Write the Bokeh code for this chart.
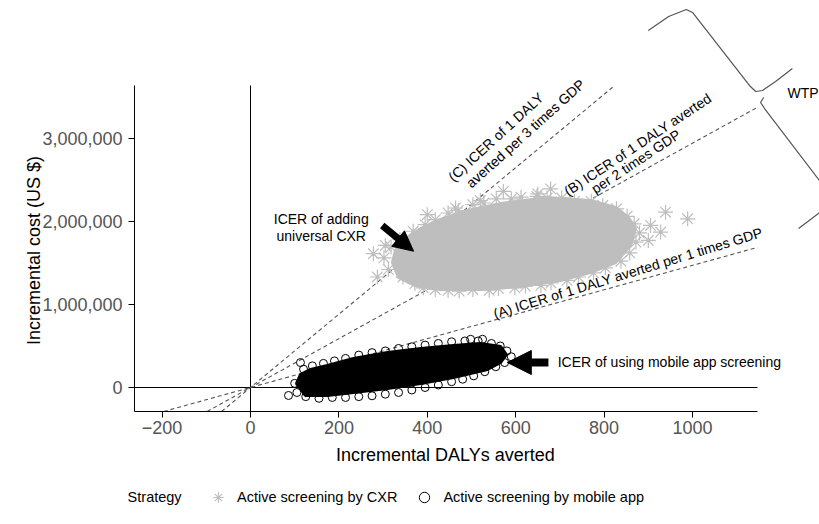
from bokeh.plotting import figure
from bokeh.models import (Range1d, Label, Legend, LegendItem, Arrow, NormalHead,
                          NumeralTickFormatter, FixedTicker)
from bokeh.embed import file_html
from bokeh.resources import INLINE

FONT = "Liberation Sans"

# ---------------- data ----------------
x_ticks = [-200, 0, 200, 400, 600, 800, 1000]
y_ticks = [0, 1000000, 2000000, 3000000]

# panel limits (data units)
x_min, x_max = -262.4, 1147.0
y_min, y_max = -288800.0, 3634000.0

# willingness-to-pay thresholds: multiples of GDP per capita (US$ per DALY)
gdp_per_capita = 1470
wtp_multiples = [1, 2, 3]

# Active screening by CXR: dense core outline + scattered edge draws
cxr_core_x = [321, 328, 351, 385, 423, 491, 566, 672, 769, 826, 855, 871, 860,
              826, 769, 701, 611, 520, 430, 373, 335]
cxr_core_y = [1504000, 1649000, 1793000, 1913000, 2010000, 2130000, 2214000,
              2286000, 2250000, 2166000, 2046000, 1913000, 1709000, 1504000,
              1384000, 1288000, 1215000, 1179000, 1179000, 1227000, 1324000]
cxr_x = [302, 312, 318, 338, 345, 368, 372,
         395, 418, 447, 470, 503, 528, 556, 590, 612, 648, 671, 704, 733, 771,
         797, 828,
         852, 868, 880, 872, 858,
         838, 803, 776, 742, 716, 680, 657, 622, 598, 561, 540, 503, 472, 447,
         418, 391,
         278, 287, 305, 400, 464, 572, 679, 905, 928, 939, 989, 900, 650, 520]
cxr_y = [1560000, 1420000, 1690000, 1780000, 1330000, 1880000, 1250000,
         1960000, 2020000, 2100000, 2130000, 2200000, 2220000, 2270000,
         2270000, 2290000, 2300000, 2280000, 2280000, 2240000, 2240000,
         2190000, 2150000,
         2060000, 1970000, 1860000, 1750000, 1620000,
         1520000, 1440000, 1380000, 1330000, 1290000, 1260000, 1230000,
         1220000, 1200000, 1190000, 1170000, 1180000, 1160000, 1170000,
         1180000, 1200000,
         1610000, 1330000, 1710000, 2080000, 2160000, 2360000, 2390000,
         1950000, 1870000, 2110000, 2030000, 1770000, 2330000, 2250000]

# Active screening by mobile app: dense core outline + edge draws
app_core_x = [104, 113, 136, 174, 233, 310, 385, 459, 520, 566, 579, 566, 536,
              459, 385, 310, 233, 174, 124]
app_core_y = [48000, 156000, 217000, 265000, 349000, 421000, 469000, 505000,
              529000, 493000, 397000, 301000, 217000, 120000, 48000, -12000,
              -60000, -96000, -96000]
app_x = [120, 140, 165, 190, 215, 245, 275, 305, 335, 365, 395, 425, 455, 485,
         515, 545, 565,
         580, 590, 575, 555,
         530, 505, 480, 455, 425, 395, 365, 335, 305, 275, 245, 215, 185, 155,
         125, 105, 100,
         86, 113, 498, 525, 560]
app_y = [220000, 260000, 290000, 320000, 350000, 390000, 420000, 440000,
         470000, 490000, 510000, 530000, 550000, 560000, 560000, 530000, 500000,
         440000, 370000, 300000, 250000,
         190000, 140000, 100000, 70000, 30000, 0, -30000, -60000, -80000,
         -100000, -110000, -120000, -120000, -130000, -110000, -60000, 50000,
         -96000, 300000, 580000, 580000, 350000]

# WTP brace (drawn in data units, outside the panel on the right)
brace1_x = [900, 946, 986, 1000, 1131, 1143, 1158, 1188, 1226]
brace1_y = [4296000, 4465000, 4549000, 4513000, 3622000, 3562000, 3574000,
            3682000, 3839000]
brace2_x = [1161, 1154, 1163, 1287, 1303]
brace2_y = [3490000, 3430000, 3357000, 2491000, 2371000]
brace3_x = [1303, 1267, 1240]
brace3_y = [2166000, 2022000, 1913000]

# ---------------- figure ----------------
# the frame covers the whole canvas; axes sit at fixed data locations
p = figure(width=819, height=524, output_backend="svg", toolbar_location=None,
           x_range=Range1d(-565.6, 1287.3), y_range=Range1d(-1648600, 4657000),
           title=None, min_border=0,
           background_fill_color="white", border_fill_color="white",
           outline_line_color=None)
p.grid.visible = False

for ax in (p.xaxis, p.yaxis):
    ax.axis_line_color = "black"
    ax.major_tick_line_color = "black"
    ax.minor_tick_line_color = None
    ax.major_tick_in = 0
    ax.major_tick_out = 6
    ax.major_label_text_font = FONT
    ax.major_label_text_font_size = "18px"
    ax.major_label_text_color = "#555555"

p.xaxis.ticker = FixedTicker(ticks=x_ticks)
p.yaxis.ticker = FixedTicker(ticks=y_ticks)
p.yaxis.formatter = NumeralTickFormatter(format="0,0")
p.xaxis.bounds = (x_min, x_max)
p.yaxis.bounds = (y_min, y_max)
p.xaxis.fixed_location = y_min
p.yaxis.fixed_location = x_min
p.xaxis.major_label_standoff = 4
p.yaxis.major_label_standoff = 6

# reference lines
p.line([x_min, x_max], [0, 0], line_color="black", line_width=1)
p.line([0, 0], [y_min, y_max], line_color="black", line_width=1)

# WTP dashed lines through origin, clipped to the panel
for m in wtp_multiples:
    s = gdp_per_capita * m
    x0 = max(x_min, y_min / s)
    x1 = min(x_max, y_max / s)
    p.line([x0, x1], [s * x0, s * x1], line_color="#555555", line_width=1.1,
           line_dash="4 3")

GRAY = "#BEBEBE"
p.patch(cxr_core_x, cxr_core_y, fill_color=GRAY, line_color=GRAY, line_width=3)
r_cxr = p.scatter(cxr_x, cxr_y, marker="asterisk", size=15, line_color=GRAY,
                  line_width=1.2)
p.patch(app_core_x, app_core_y, fill_color="black", line_color="black",
        line_width=3)
r_app = p.scatter(app_x, app_y, marker="circle", size=8, fill_color=None,
                  line_color="black", line_width=1)

# brace
for bx, by in ((brace1_x, brace1_y), (brace2_x, brace2_y), (brace3_x, brace3_y)):
    p.line(bx, by, line_color="#555555", line_width=1.2)


def lab(x, y, text, size="14px", angle=0, align="center", color="black",
        baseline="middle"):
    p.add_layout(Label(x=x, y=y, text=text, angle=angle, angle_units="deg",
                       text_font=FONT, text_font_size=size, text_color=color,
                       text_align=align, text_baseline=baseline))


# threshold labels
lab(555, 3014000, "(C) ICER of 1 DALY", angle=42.5)
lab(622, 3057000, "averted per 3 times GDP", angle=42)
lab(876, 2924000, "(B) ICER of 1 DALY averted", angle=33.5)
lab(872, 2720000, "per 2 times GDP", angle=33.5)
lab(854, 1378000, "(A) ICER of 1 DALY averted per 1 times GDP", angle=17)

# arrows and their texts
p.add_layout(Arrow(end=NormalHead(size=20, fill_color="black", line_color="black"),
                   x_start=298, y_start=1949000, x_end=369, y_end=1640000,
                   line_color="black", line_width=7))
lab(160, 2022000, "ICER of adding")
lab(160, 1829000, "universal CXR")
p.add_layout(Arrow(end=NormalHead(size=24, fill_color="black", line_color="black"),
                   x_start=674, y_start=301000, x_end=581, y_end=301000,
                   line_color="black", line_width=8))
lab(695, 301000, "ICER of using mobile app screening", align="left")

lab(1215, 3538000, "WTP", align="left")

# axis titles
lab(441, -818000, "Incremental DALYs averted", size="18px")
lab(-489, 1649000, "Incremental cost (US $)", size="18px", angle=90)

# legend
lab(-278, -1320000, "Strategy", size="14.5px", align="left")
legend = Legend(items=[LegendItem(label="Active screening by CXR", renderers=[r_cxr]),
                       LegendItem(label="Active screening by mobile app", renderers=[r_app])],
                orientation="horizontal", location=(205, 14),
                background_fill_alpha=0, border_line_alpha=0, padding=0,
                margin=0, spacing=14, label_standoff=6, glyph_width=26,
                glyph_height=26, label_height=26, label_text_font=FONT,
                label_text_font_size="14.5px", label_text_color="black")
p.add_layout(legend)

open("out.html", "w").write(file_html(p, INLINE))
